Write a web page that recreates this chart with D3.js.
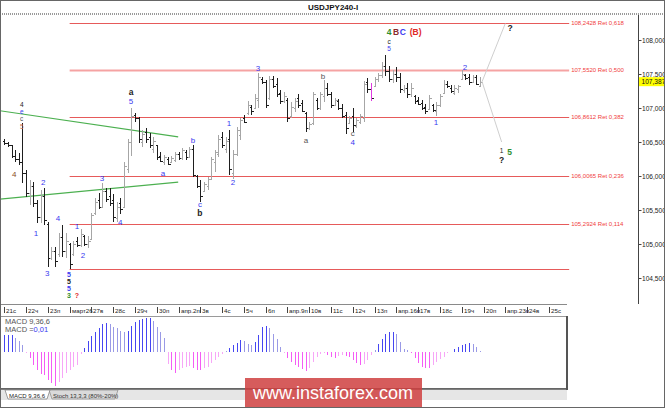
<!DOCTYPE html>
<html>
<head>
<meta charset="utf-8">
<script src="https://cdnjs.cloudflare.com/ajax/libs/d3/7.8.5/d3.min.js"></script>
<style>
  body { margin: 0; background: #fff; }
  svg { display: block; font-family: "Liberation Sans", Arial, sans-serif; }
</style>
</head>
<body>
<div id="chart"></div>
<script>
// ---- data (4H bars, USDJPY) ----
var highs = [
  106.54,106.50,106.46,106.38,106.34,106.78,106.09,105.94,105.91,105.65,
  105.79,105.82,105.32,104.96,104.96,105.16,105.28,105.16,105.01,105.04,
  105.10,105.22,105.13,105.12,105.46,105.68,105.75,105.90,105.82,105.82,
  105.74,105.62,105.68,106.20,106.55,107.00,106.93,106.87,106.68,106.71,
  106.63,106.57,106.46,106.35,106.31,106.28,106.29,106.35,106.35,106.41,
  106.38,106.43,106.46,106.01,105.94,105.91,105.98,106.28,106.38,106.60,
  106.65,106.57,106.68,106.38,106.72,106.85,106.90,107.10,107.04,107.20,
  107.52,107.45,107.41,107.47,107.47,107.44,107.27,107.24,107.15,107.09,
  107.15,107.21,107.12,106.94,106.79,107.24,107.15,107.24,107.41,107.37,
  107.24,107.15,107.13,107.06,106.94,106.88,107.00,106.85,106.91,107.40,
  107.44,107.37,107.46,107.52,107.68,107.78,107.62,107.56,107.60,107.51,
  107.34,107.37,107.37,107.19,107.16,107.12,107.06,107.19,107.06,107.09,
  107.21,107.41,107.40,107.34,107.34,107.34,107.56,107.50,107.50,107.49,
  107.49,107.46
];
var lows = [
  106.46,106.43,106.26,106.21,106.16,105.90,105.69,105.57,105.54,105.31,
  105.31,105.28,104.66,104.76,104.66,104.81,104.81,104.79,104.63,104.82,
  104.95,104.96,104.97,104.94,105.08,105.42,105.52,105.55,105.62,105.56,
  105.32,105.33,105.44,105.54,106.05,106.30,106.80,106.49,106.43,106.49,
  106.41,106.34,106.24,106.20,106.16,106.16,106.19,106.21,106.24,106.24,
  106.24,106.26,105.99,105.82,105.62,105.76,105.79,105.94,106.06,106.28,
  106.41,106.34,106.02,105.96,106.30,106.53,106.78,106.90,106.90,107.00,
  107.00,107.35,107.00,107.12,107.29,107.16,107.06,107.07,106.79,106.85,
  106.94,107.00,106.94,106.65,106.68,106.75,106.97,106.97,107.09,107.18,
  107.00,107.03,106.97,106.85,106.62,106.76,106.65,106.71,106.76,106.80,
  107.22,107.10,107.31,107.38,107.44,107.47,107.38,107.37,107.38,107.22,
  107.22,107.15,107.16,107.06,107.04,106.97,106.91,106.97,106.94,106.88,
  107.01,107.22,107.29,107.22,107.19,107.22,107.41,107.41,107.34,107.38,
  107.34,107.31
];
var opens = [
  106.52,106.48,106.45,106.30,106.25,106.20,106.05,105.75,105.85,105.60,
  105.40,105.70,105.30,104.80,104.90,104.85,105.10,104.90,105.00,104.85,
  105.05,104.98,105.12,105.00,105.08,105.45,105.65,105.55,105.78,105.70,
  105.65,105.38,105.60,105.55,106.10,106.50,106.90,106.85,106.50,106.65,
  106.58,106.40,106.45,106.30,106.20,106.25,106.20,106.24,106.32,106.27,
  106.36,106.28,106.40,106.00,105.86,105.78,105.85,105.95,106.20,106.32,
  106.58,106.40,106.55,106.05,106.32,106.60,106.86,106.92,107.02,107.00,
  107.12,107.43,107.38,107.15,107.42,107.35,107.22,107.10,107.12,106.88,
  107.00,107.15,107.08,106.92,106.70,106.78,107.12,107.00,107.18,107.30,
  107.20,107.05,107.10,107.00,106.90,106.78,106.88,106.74,106.80,106.85,
  107.38,107.28,107.32,107.42,107.48,107.62,107.55,107.42,107.50,107.45,
  107.26,107.30,107.20,107.18,107.12,107.08,107.02,106.98,107.05,106.95,
  107.05,107.22,107.36,107.30,107.22,107.28,107.42,107.48,107.45,107.38,
  107.46,107.33
];
var closes = [
  106.48,106.45,106.30,106.25,106.20,106.05,105.75,105.85,105.60,105.40,
  105.70,105.35,104.80,104.90,104.75,105.10,104.90,105.05,104.70,105.00,
  104.98,105.15,105.00,105.05,105.42,105.62,105.55,105.78,105.66,105.60,
  105.40,105.55,105.52,106.15,106.50,106.88,106.85,106.55,106.62,106.55,
  106.45,106.52,106.28,106.22,106.28,106.18,106.26,106.32,106.27,106.38,
  106.28,106.40,106.02,105.86,105.70,105.88,105.95,106.25,106.35,106.55,
  106.45,106.52,106.10,106.32,106.68,106.82,106.80,107.05,106.95,107.15,
  107.45,107.38,107.05,107.42,107.32,107.20,107.10,107.18,106.85,107.02,
  107.10,107.05,106.96,106.70,106.76,107.20,107.00,107.20,107.30,107.20,
  107.05,107.12,107.00,106.88,106.70,106.85,106.75,106.82,106.88,107.35,
  107.28,107.15,107.42,107.48,107.62,107.55,107.42,107.50,107.45,107.28,
  107.30,107.20,107.30,107.10,107.06,107.00,106.95,107.15,106.97,107.05,
  107.18,107.36,107.32,107.25,107.30,107.32,107.50,107.44,107.38,107.45,
  107.36,107.387
];
var markedBar = 101;   // bar drawn in magenta on the chart

var macdHist = [
  0.167,0.167,0.167,0.14,0.107,0.067,-0.017,-0.067,-0.133,-0.183,
  -0.223,-0.233,-0.283,-0.317,-0.34,-0.30,-0.26,-0.217,-0.183,-0.15,
  -0.133,-0.027,0.033,0.11,0.157,0.20,0.233,0.273,0.283,0.273,
  0.243,0.233,0.21,0.193,0.21,0.257,0.293,0.317,0.327,0.333,
  0.333,0.307,0.25,0.20,0.133,-0.12,-0.18,-0.21,-0.183,-0.16,
  -0.15,-0.143,-0.167,-0.183,-0.183,-0.167,-0.15,-0.117,-0.083,-0.05,
  -0.027,0.007,0.033,0.067,0.09,0.117,0.103,0.073,0.067,0.10,
  0.167,0.25,0.26,0.233,0.173,0.127,0.043,-0.01,-0.067,-0.10,
  -0.133,-0.15,-0.173,-0.193,-0.16,-0.10,-0.05,-0.027,-0.017,-0.033,
  -0.05,-0.06,-0.043,-0.033,-0.043,-0.05,-0.083,-0.117,-0.133,-0.127,
  -0.083,-0.033,0.017,0.077,0.127,0.173,0.20,0.20,0.173,0.10,
  0.027,0.017,-0.017,-0.067,-0.117,-0.15,-0.16,-0.16,-0.133,-0.10,
  -0.077,-0.05,-0.017,-0.003,0.027,0.043,0.067,0.073,0.09,0.073,
  0.05,0.007
];

var dayLabels = ["21с","22ч","23п","март26","27в","28с","29ч","30п","апр.2п","3в","4с","5ч","6п",
  "апр.9п","10в","11с","12ч","13п","апр.16п","17в","18с","19ч","20п","апр.23п","24в","25с"];
var barsPerDay = 6;

var priceTicks = [104.5, 105, 105.5, 106, 106.5, 107, 107.5, 108];
var lastPrice = 107.387;

var fibLevels = [108.2428, 107.5520, 106.8612, 106.0065, 105.2924, 104.63];
var fibRatios = ["0,618", "0,500", "0,382", "0,236", "0,114", null];
var fibSpan = [18, 155.6];

// trend channel lines: [bar, price] pairs
var greenLines = [
  [[-1.2, 106.96], [47.9, 106.574]],
  [[-1.2, 105.66], [47.9, 105.91]]
];
// forecast paths from last bar
var forecastUp = [[131.6, 107.387], [138, 108.2428]];
var forecastDown = [[131.6, 107.387], [137, 106.50]];

// wave labels: text, bar, price, colour key, style (0 plain, 1 bold, 2 small bold, 3 small)
var waveLabels = [
  ["4", 4.8, 107.05, "dark", 3], ["e", 4.8, 106.94, "blue", 3], ["c", 4.8, 106.84, "gray", 3],
  ["5", 4.8, 106.72, "salmon", 3], ["4", 2.7, 106.03, "brown", 0],
  ["1", 8.7, 105.16, "blue", 0], ["2", 10.7, 105.91, "blue", 0], ["3", 11.8, 104.57, "blue", 0],
  ["4", 14.8, 105.38, "blue", 0], ["5", 17.8, 104.545, "blue", 2],
  ["5", 17.8, 104.445, "dark", 2], ["5", 17.8, 104.345, "blue", 2], ["3", 17.8, 104.235, "green", 2],
  ["?", 20, 104.235, "red", 2],
  ["1", 20, 105.26, "blue", 0], ["2", 21.7, 104.84, "blue", 0], ["3", 26.9, 105.97, "blue", 0],
  ["4", 31.9, 105.32, "blue", 0],
  ["a", 34.9, 107.23, "dark", 1], ["5", 34.9, 107.095, "blue", 0],
  ["a", 43.7, 106.04, "blue", 0], ["b", 52, 106.53, "blue", 0], ["c", 53.9, 105.585, "blue", 0],
  ["b", 53.9, 105.46, "dark", 1],
  ["1", 61.9, 106.78, "blue", 0], ["2", 63, 105.91, "blue", 0], ["3", 69.9, 107.59, "blue", 0],
  ["a", 83.1, 106.53, "gray", 0], ["b", 87.8, 107.47, "gray", 0], ["c", 96, 106.63, "gray", 0],
  ["4", 96, 106.50, "blue", 0],
  ["c", 106, 107.975, "dark", 3], ["5", 106, 107.87, "blue", 3],
  ["4", 106, 108.12, "green", 1], ["B", 107.9, 108.12, "maroon", 1], ["C", 109.8, 108.12, "blue", 1],
  ["(B)", 113.3, 108.12, "red", 1],
  ["1", 118.9, 106.79, "blue", 0], ["2", 126.9, 107.60, "blue", 0],
  ["?", 139.3, 108.18, "dark", 1],
  ["1", 137, 106.37, "dark", 3], ["5", 139.2, 106.35, "green", 1], ["?", 137, 106.24, "dark", 1]
];
var labelColors = {
  blue: "#3a3af0", dark: "#222", gray: "#555", brown: "#8a4a25", salmon: "#c8705a",
  green: "#2f8f2f", red: "#e02828", maroon: "#8b2a2a"
};

// ---- layout ----
var svgWidth = 665, svgHeight = 408;
var svg = d3.select('#chart').append('svg')
  .attr('width', svgWidth)
  .attr('height', svgHeight);

var x = d3.scaleLinear().domain([0, 132]).range([4.3, 483.5]);
var y = d3.scaleLinear().domain([104.5, 108]).range([278, 40]);
var yMacd = d3.scaleLinear().domain([-0.35, 0.35]).range([386.7, 316.7]);
var px = function(i) { return Math.round(x(i)) + 0.5; };
var comma = function(v, n) { return v.toFixed(n).replace('.', ','); };

svg.append('rect').attr('width', svgWidth).attr('height', svgHeight).attr('fill', '#fff');

// title + dotted separator
svg.append('text')
  .attr('x', 333).attr('y', 10)
  .attr('text-anchor', 'middle')
  .attr('font-size', '8px').attr('font-weight', 'bold').attr('fill', '#111')
  .text('USDJPY240-I');
svg.append('line')
  .attr('x1', 0).attr('x2', svgWidth).attr('y1', 14).attr('y2', 14)
  .attr('stroke', '#9a9a9a').attr('stroke-width', 2).attr('stroke-dasharray', '1,1');

// price axis on the right
svg.append('line')
  .attr('x1', 638.5).attr('x2', 638.5).attr('y1', 15).attr('y2', 304)
  .attr('stroke', '#444');
var rightAxis = d3.axisRight(y)
  .tickValues(priceTicks)
  .tickSize(3)
  .tickFormat(function(d) { return comma(d, 3); });
var axisG = svg.append('g')
  .attr('transform', 'translate(638.5,0)')
  .call(rightAxis);
axisG.select('.domain').remove();
axisG.selectAll('line').attr('stroke', '#444');
axisG.selectAll('text')
  .attr('x', 3.5)
  .attr('font-size', '6.6px')
  .attr('font-family', '"Liberation Sans", Arial, sans-serif')
  .attr('fill', '#222');

// fibonacci levels
var fibG = svg.append('g');
fibLevels.forEach(function(lv, k) {
  fibG.append('line')
    .attr('x1', x(fibSpan[0])).attr('x2', x(fibSpan[1]))
    .attr('y1', Math.round(y(lv)) + 0.5).attr('y2', Math.round(y(lv)) + 0.5)
    .attr('stroke', k === 1 ? '#f5a3a3' : '#e65a5a')
    .attr('stroke-width', k === 1 ? 2 : 1.2);
  if (fibRatios[k]) {
    fibG.append('text')
      .attr('x', x(fibSpan[1]) + 2).attr('y', y(lv) + 2)
      .attr('font-size', '6px').attr('fill', '#f03c3c')
      .text(comma(lv, 4) + ' Ret ' + fibRatios[k]);
  }
});

// green channel lines
var line = d3.line().x(function(d) { return x(d[0]); }).y(function(d) { return y(d[1]); });
greenLines.forEach(function(g) {
  svg.append('path').attr('d', line(g))
    .attr('fill', 'none').attr('stroke', '#4cb050').attr('stroke-width', 1.2);
});

// OHLC bars
var barG = svg.append('g').attr('shape-rendering', 'crispEdges');
highs.forEach(function(hi, i) {
  var up = closes[i] >= opens[i];
  var col = up ? '#a6a6a6' : '#1e1e1e';
  var w = up ? 1.6 : 1;
  var cx = px(i);
  barG.append('line')
    .attr('x1', cx).attr('x2', cx).attr('y1', y(hi)).attr('y2', y(lows[i]))
    .attr('stroke', col).attr('stroke-width', w);
  barG.append('line')
    .attr('x1', cx - 2).attr('x2', cx).attr('y1', Math.round(y(opens[i])) + 0.5).attr('y2', Math.round(y(opens[i])) + 0.5)
    .attr('stroke', col);
  barG.append('line')
    .attr('x1', cx).attr('x2', cx + 2).attr('y1', Math.round(y(closes[i])) + 0.5).attr('y2', Math.round(y(closes[i])) + 0.5)
    .attr('stroke', col);
});
barG.append('line')
  .attr('x1', px(markedBar)).attr('x2', px(markedBar))
  .attr('y1', y(highs[markedBar])).attr('y2', y(lows[markedBar]))
  .attr('stroke', '#e03ae0').attr('stroke-width', 1.2);

// forecast paths
[forecastUp, forecastDown].forEach(function(f) {
  svg.append('path').attr('d', line(f))
    .attr('fill', 'none').attr('stroke', '#cfcfcf').attr('stroke-width', 1);
});

// wave labels
var labelSize = ['8px', '8.5px', '7px', '6.5px'];
svg.append('g').selectAll('text')
  .data(waveLabels)
  .enter()
  .append('text')
  .attr('x', function(d) { return x(d[1]); })
  .attr('y', function(d) { return y(d[2]); })
  .attr('dy', '0.35em')
  .attr('text-anchor', 'middle')
  .attr('font-size', function(d) { return labelSize[d[4]]; })
  .attr('font-weight', function(d) { return (d[4] === 1 || d[4] === 2) ? 'bold' : 'normal'; })
  .attr('fill', function(d) { return labelColors[d[3]]; })
  .text(function(d) { return d[0]; });

// current price box
svg.append('rect')
  .attr('x', 639).attr('y', y(lastPrice) - 4.5).attr('width', 26).attr('height', 9)
  .attr('fill', '#ffff00');
svg.append('text')
  .attr('x', 641.5).attr('y', y(lastPrice) + 2.5)
  .attr('font-size', '6.6px').attr('fill', '#111')
  .text(comma(lastPrice, 3));

// date axis strip
svg.append('line')
  .attr('x1', 0).attr('x2', 567).attr('y1', 304.5).attr('y2', 304.5)
  .attr('stroke', '#8a8a8a');
var dateG = svg.append('g');
dayLabels.forEach(function(lbl, k) {
  var tx = px(k * barsPerDay);
  dateG.append('line')
    .attr('x1', tx).attr('x2', tx).attr('y1', 307).attr('y2', 313)
    .attr('stroke', '#444');
  dateG.append('text')
    .attr('x', tx + 1.5).attr('y', 313)
    .attr('font-size', '6.2px').attr('fill', '#222')
    .text(lbl);
});

// MACD panel
svg.append('rect')
  .attr('x', 0.5).attr('y', 316.5).attr('width', 566).attr('height', 72)
  .attr('fill', '#fff').attr('stroke', '#9a9a9a');
svg.append('line')
  .attr('x1', 567).attr('x2', 567).attr('y1', 316).attr('y2', 390)
  .attr('stroke', '#555').attr('stroke-width', 2);
svg.append('line')
  .attr('x1', 0).attr('x2', 568).attr('y1', 389).attr('y2', 389)
  .attr('stroke', '#555').attr('stroke-width', 1.5);

var histG = svg.append('g').attr('shape-rendering', 'crispEdges');
macdHist.forEach(function(v, i) {
  var prev = i > 0 ? macdHist[i - 1] : v;
  var growing = Math.abs(v) >= Math.abs(prev);
  var col = v >= 0 ? (growing ? '#4646f2' : '#9a9ae6') : (growing ? '#f55cf5' : '#f7a6f7');
  histG.append('line')
    .attr('x1', px(i)).attr('x2', px(i))
    .attr('y1', yMacd(0)).attr('y2', yMacd(v))
    .attr('stroke', col).attr('stroke-width', 1);
});

svg.append('text')
  .attr('x', 5).attr('y', 324)
  .attr('font-size', '7.5px').attr('fill', '#555')
  .text('MACD 9,36,6');
var mv = svg.append('text')
  .attr('x', 5).attr('y', 332)
  .attr('font-size', '7.5px').attr('fill', '#555');
mv.append('tspan').text('MACD =');
mv.append('tspan').attr('fill', '#3a3af0').text(comma(macdHist[macdHist.length - 1], 2));

// indicator tabs strip
svg.append('rect')
  .attr('x', 1).attr('y', 390).attr('width', 566).attr('height', 10)
  .attr('fill', '#e6e6e6');
svg.append('path')
  .attr('d', 'M49,390 L118,390 L115,399 L52,399 Z')
  .attr('fill', '#dadada').attr('stroke', '#888').attr('stroke-width', 0.7);
svg.append('path')
  .attr('d', 'M5,390 L50,390 L47,399 L8,399 Z')
  .attr('fill', '#fff').attr('stroke', '#777').attr('stroke-width', 0.7);
svg.append('text')
  .attr('x', 9).attr('y', 397.5).attr('font-size', '6px').attr('fill', '#222')
  .text('MACD 9,36,6');
svg.append('text')
  .attr('x', 53).attr('y', 397.5).attr('font-size', '6px').attr('fill', '#333')
  .text('Stoch 13,3,3 (80%-20%)');

// watermark
svg.append('rect')
  .attr('x', 245).attr('y', 378).attr('width', 177).attr('height', 30)
  .attr('fill', '#cf3f3f').attr('opacity', 0.85);
svg.append('text')
  .attr('x', 333).attr('y', 399)
  .attr('text-anchor', 'middle')
  .attr('font-size', '18px').attr('fill', '#fff')
  .text('www.instaforex.com');

// outer frame
svg.append('rect')
  .attr('x', 0.5).attr('y', 0.5).attr('width', svgWidth - 1).attr('height', svgHeight - 1)
  .attr('fill', 'none').attr('stroke', '#666');
</script>
</body>
</html>
